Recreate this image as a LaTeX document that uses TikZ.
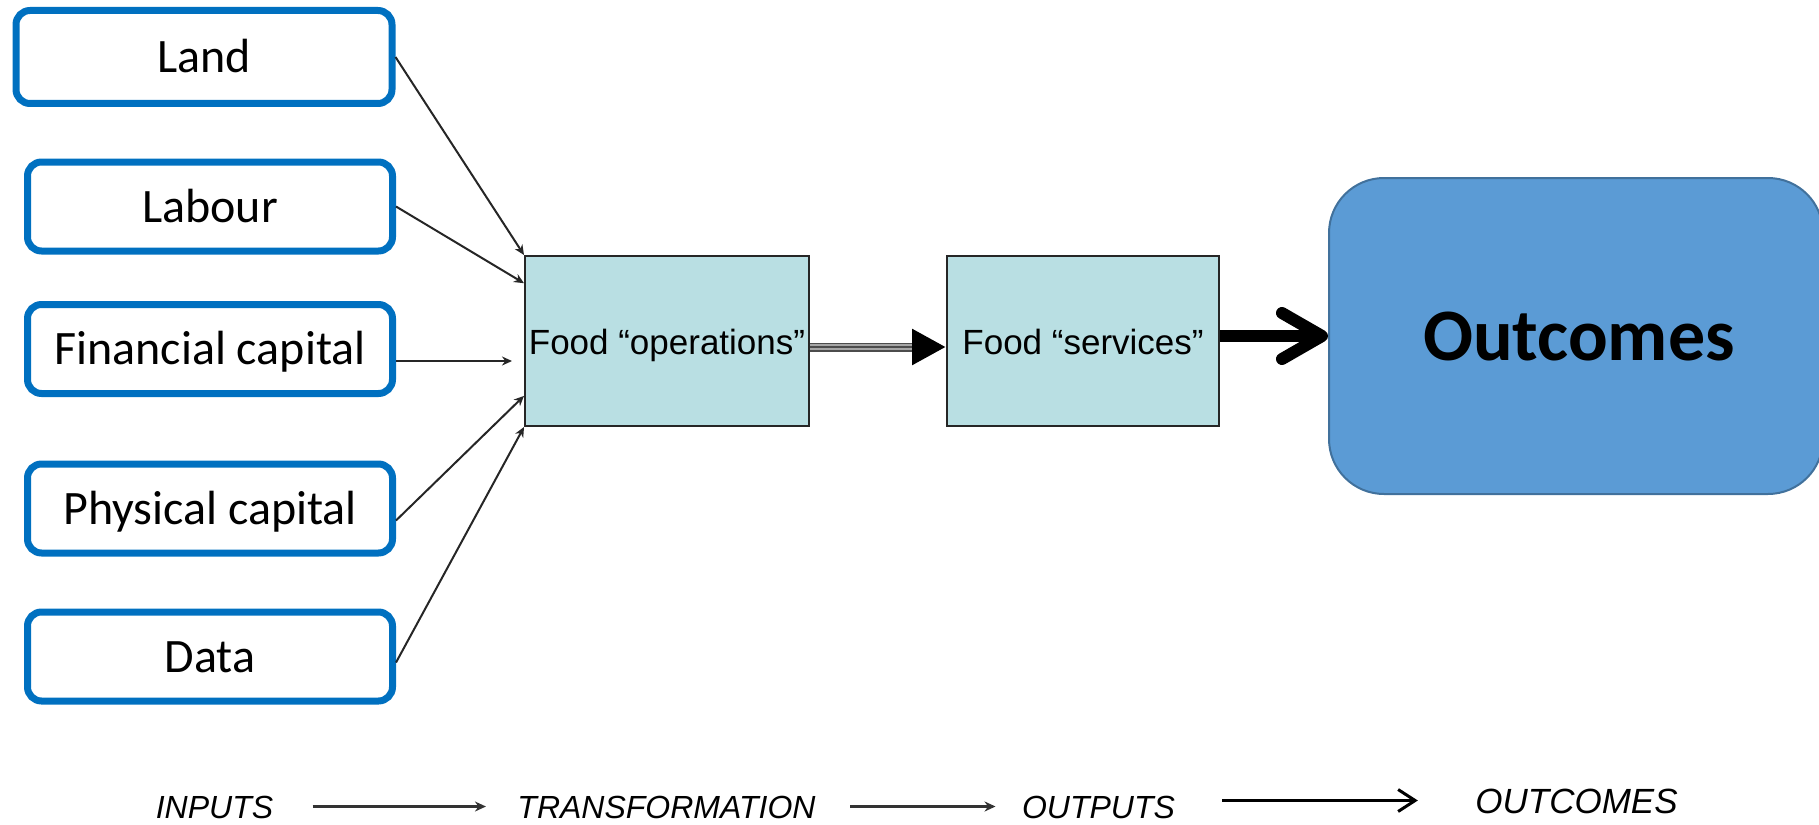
\documentclass[tikz,border=0pt]{standalone}
\usepackage{fontspec}
\setmainfont{Carlito}
\newfontfamily\arialfont{Liberation Sans}
\usetikzlibrary{positioning}
\usetikzlibrary{arrows.meta}

\definecolor{inputblue}{HTML}{0070C0}
\definecolor{foodcyan}{HTML}{B9DFE3}
\definecolor{outfill}{HTML}{5B9BD5}
\definecolor{outdraw}{HTML}{41719C}

\begin{document}
\begin{tikzpicture}[x=1pt,y=-1pt,
		input/.style={draw=inputblue,line width=7pt,rounded corners=14pt,minimum width=365pt,minimum height=89pt,text height=31pt,text depth=0pt,font=\fontsize{48}{56}\selectfont},
		food/.style={draw=black!85,line width=2pt,fill=foodcyan,minimum height=170pt,text height=26pt,text depth=0pt,font=\arialfont\fontsize{35}{40}\selectfont},
		stage/.style={text height=23pt,text depth=0pt,font=\arialfont\itshape\fontsize{32}{36}\selectfont},
		feed/.style={draw=black!85,line width=2pt,-{Stealth[length=10pt,width=9pt]}},
		flow/.style={draw=black!80,line width=2.5pt,-{Stealth[length=11pt,width=10pt]}}]
	\useasboundingbox (0,0) rectangle (1819,824);
	\node [input,minimum width=376pt,minimum height=93pt] (land) at (204,57) {Land};
	\node [input] (labour) at (210,206.5) {Labour};
	\node [input] (fin) at (210,349) {Financial capital};
	\node [input] (phys) at (210,508.5) {Physical capital};
	\node [input] (data) at (210,656.5) {Data};
	\node [food,minimum width=284pt] (ops) at (667,341) {Food “operations”};
	\node [food,minimum width=272pt] (serv) at (1083,341) {Food “services”};
	\node [draw=outdraw,line width=2pt,fill=outfill,rounded corners=55pt,minimum width=494pt,minimum height=316pt,text height=49pt,text depth=0pt,font=\bfseries\fontsize{74}{80}\selectfont] (out) at (1576,336) {\hspace*{6pt}Outcomes};
	\draw [feed] (land.east) -- (ops.north west);
	\draw [feed] (labour.east) -- (ops.158);
	\draw [feed,shorten >=12pt] ([yshift=-12pt]fin.east) -- ([yshift=-12pt]fin.east -| ops.west);
	\draw [feed] ([yshift=-12pt]phys.east) -- (ops.201);
	\draw [feed] ([yshift=-6pt]data.east) -- (ops.south west);
	\draw [black!70,line width=9pt,-{Triangle[length=34pt,width=34pt,color=black]}] ([yshift=-6pt]ops.east) -- ([yshift=-6pt]serv.west);
	\draw [black!35,line width=2pt,shorten >=34pt] ([yshift=-8pt]ops.east) -- ([yshift=-8pt]serv.west);
	\draw [black!35,line width=2pt,shorten >=34pt] ([yshift=-4pt]ops.east) -- ([yshift=-4pt]serv.west);
	\draw [line width=12pt,-{Straight Barb[length=40pt,width=46pt,round]}] (serv.east |- out.west) -- (out.west);
	\node [stage] (inp) at (214.5,806.5) {INPUTS};
	\node [stage] (trans) at (666.5,806.5) {TRANSFORMATION};
	\node [stage] (outp) at (1098.5,806.5) {OUTPUTS};
	\node [stage,text height=25pt,font=\arialfont\itshape\fontsize{35}{40}\selectfont] (outc) at (1576.5,800.5) {OUTCOMES};
	\draw [flow,shorten <=36pt,shorten >=28pt] (inp) -- (trans);
	\draw [flow,shorten <=31pt,shorten >=23pt] (trans) -- (outp);
	\draw [line width=3pt,-{Straight Barb[length=17pt,width=22pt]},shorten <=44pt,shorten >=54pt] (outp.east |- outc) -- (outc);
\end{tikzpicture}
\end{document}
